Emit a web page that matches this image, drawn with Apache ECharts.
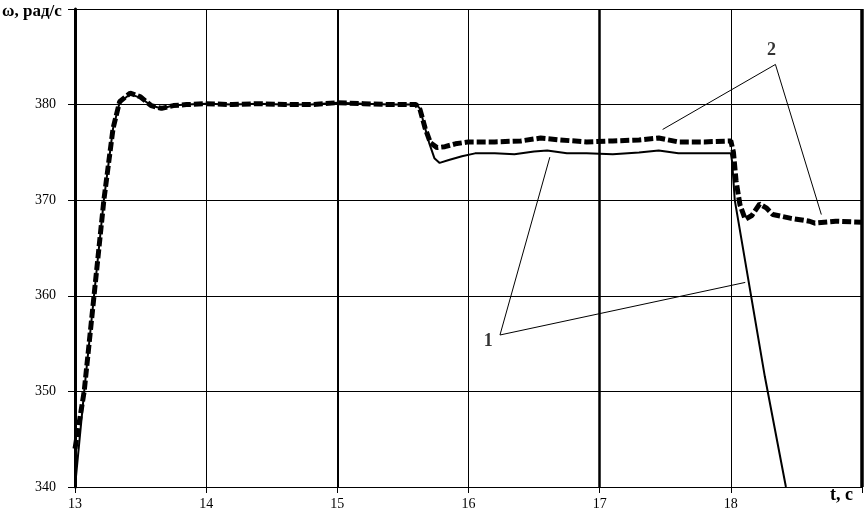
<!DOCTYPE html>
<html>
<head>
<meta charset="utf-8">
<script src="https://cdn.jsdelivr.net/npm/echarts@6/dist/echarts.min.js"></script>
<style>
  html, body { margin: 0; padding: 0; background: #fff; }
</style>
</head>
<body>
<div id="omegaChart" style="width: 867px;height: 513px"></div>
<script>
  // кривая 1 (сплошная) - [t, ω]
  const curve1 = [
    [13.0, 340], [13.07, 350], [13.145, 360], [13.22, 370], [13.29, 377.5], [13.34, 380.2],
    [13.42, 381.1], [13.5, 380.7], [13.58, 379.9], [13.66, 379.6], [13.75, 379.9], [13.85, 380.0],
    [14.0, 380.1], [14.2, 380.0], [14.4, 380.1], [14.6, 380.0], [14.8, 380.0], [15.0, 380.2],
    [15.2, 380.1], [15.4, 380.0], [15.6, 380.0], [15.63, 379.6], [15.66, 378], [15.7, 376],
    [15.74, 374.4], [15.78, 373.9], [15.85, 374.2], [15.95, 374.6], [16.05, 374.9], [16.2, 374.9],
    [16.35, 374.8], [16.5, 375.1], [16.6, 375.2], [16.75, 374.9], [16.9, 374.9], [17.1, 374.8],
    [17.3, 375.0], [17.45, 375.2], [17.6, 374.9], [17.8, 374.9], [18.0, 374.9], [18.01, 374],
    [18.03, 370], [18.26, 351.5], [18.42, 340]
  ];

  // кривая 2 (пунктир)
  const curve2 = [
    [13.0, 344], [13.07, 350], [13.145, 360], [13.22, 370], [13.29, 377.5], [13.34, 380.3],
    [13.42, 381.2], [13.5, 380.8], [13.58, 379.9], [13.66, 379.6], [13.75, 379.9], [13.85, 380.0],
    [14.0, 380.1], [14.2, 380.0], [14.4, 380.1], [14.6, 380.0], [14.8, 380.0], [15.0, 380.2],
    [15.2, 380.1], [15.4, 380.0], [15.6, 380.0], [15.63, 379.5], [15.67, 377.5], [15.71, 376],
    [15.76, 375.5], [15.82, 375.6], [15.9, 375.9], [16.0, 376.1], [16.2, 376.1], [16.4, 376.2],
    [16.55, 376.5], [16.7, 376.3], [16.9, 376.1], [17.1, 376.2], [17.3, 376.3], [17.45, 376.5],
    [17.6, 376.1], [17.8, 376.1], [18.0, 376.2], [18.02, 375], [18.04, 372], [18.07, 369.5],
    [18.11, 368], [18.16, 368.4], [18.22, 369.6], [18.27, 369.2], [18.32, 368.5], [18.46, 368.1],
    [18.6, 367.8], [18.64, 367.6], [18.8, 367.8], [19.0, 367.7]
  ];

  // выноски
  const leader1 = [[16.62, 374.5], [16.24, 355.9], [18.11, 361.4]];
  const leader2 = [[17.48, 377.4], [18.34, 384.2], [18.69, 368.5]];
  const leaderLabels = [
    {name: '1', value: [16.15, 355.2]},
    {name: '2', value: [18.31, 385.7]}
  ];

  const xTicks = [13, 14, 15, 16, 17, 18];
  const yTicks = [340, 350, 360, 370, 380];

  let chart = echarts.init(document.getElementById('omegaChart'));

  let option = {
    animation: false,
    backgroundColor: '#fff',
    grid: {left: 75, right: 5, top: 9, bottom: 26},
    xAxis: {
      type: 'value',
      min: 13,
      max: 19,
      interval: 1,
      axisLine: {show: true, onZero: false, lineStyle: {color: '#000', width: 1}},
      axisTick: {show: true, length: 6, lineStyle: {color: '#000'}},
      axisLabel: {
        margin: 10,
        color: '#000',
        fontFamily: 'Liberation Serif',
        fontSize: 14,
        formatter: function (v) {
          return xTicks.indexOf(v) >= 0 ? String(v) : '';
        }
      },
      splitLine: {show: true, lineStyle: {color: '#000', width: 1}}
    },
    yAxis: {
      type: 'value',
      min: 340,
      max: 390,
      interval: 10,
      axisLine: {show: true, lineStyle: {color: '#000', width: 3}},
      axisTick: {show: true, length: 7, lineStyle: {color: '#000'}},
      axisLabel: {
        margin: 19,
        color: '#000',
        fontFamily: 'Liberation Serif',
        fontSize: 14,
        formatter: function (v) {
          return yTicks.indexOf(v) >= 0 ? String(v) : '';
        }
      },
      splitLine: {show: true, lineStyle: {color: '#000', width: 1}}
    },
    graphic: [
      {
        type: 'text', left: 2, top: 3,
        style: {text: 'ω, рад/с', font: 'bold 17px "Liberation Serif"', fill: '#000'}
      },
      {
        type: 'text', left: 830, top: 486,
        style: {text: 't, c', font: 'bold 18px "Liberation Serif"', fill: '#000'}
      }
    ],
    series: [
      {
        name: '1',
        type: 'line',
        data: curve1,
        showSymbol: false,
        symbol: 'none',
        lineStyle: {color: '#000', width: 2},
        markLine: {
          silent: true,
          symbol: 'none',
          label: {show: false},
          data: [
            {xAxis: 15, lineStyle: {color: '#000', width: 2, type: 'solid'}},
            {xAxis: 17, lineStyle: {color: '#000', width: 2.5, type: 'solid'}},
            {xAxis: 19, lineStyle: {color: '#000', width: 3.5, type: 'solid'}}
          ]
        },
        z: 3
      },
      {
        name: '2',
        type: 'line',
        data: curve2,
        showSymbol: false,
        symbol: 'none',
        lineStyle: {color: '#000', width: 5, type: [9, 3], cap: 'butt'},
        z: 4
      },
      {
        type: 'line',
        data: leader1,
        symbol: 'none',
        lineStyle: {color: '#000', width: 1},
        z: 5
      },
      {
        type: 'line',
        data: leader2,
        symbol: 'none',
        lineStyle: {color: '#000', width: 1},
        z: 5
      },
      {
        type: 'scatter',
        data: leaderLabels,
        symbolSize: 0,
        label: {
          show: true,
          position: 'inside',
          formatter: '{b}',
          color: '#000',
          fontFamily: 'Liberation Serif',
          fontWeight: 'bold',
          fontSize: 18
        },
        z: 6
      }
    ]
  };

  chart.setOption(option);
</script>
</body>
</html>
